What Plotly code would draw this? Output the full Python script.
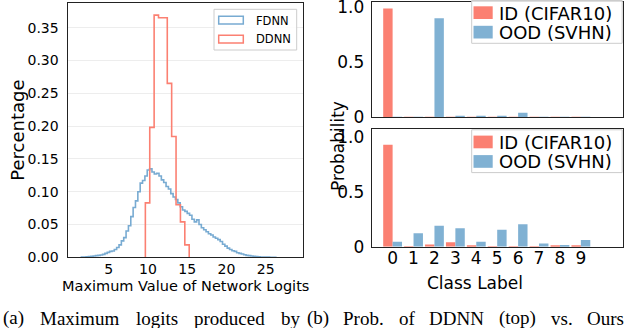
import plotly.graph_objects as go

# ---------------- data ----------------
# Left: histograms of max logits (step outlines)
fdnn_bin_start = 1.5
fdnn_bin_width = 0.3
fdnn_values = [
    0.0003, 0.0005, 0.0008, 0.001, 0.0015,
    0.002, 0.0025, 0.003, 0.0035, 0.0045,
    0.006, 0.0075, 0.009, 0.0095, 0.012,
    0.015, 0.019, 0.025, 0.030, 0.040,
    0.048, 0.062, 0.076, 0.086, 0.100,
    0.113, 0.117, 0.124, 0.133, 0.135,
    0.130, 0.127, 0.128, 0.124, 0.118,
    0.114, 0.108, 0.104, 0.097, 0.092,
    0.088, 0.083, 0.077, 0.072, 0.070,
    0.067, 0.064, 0.058, 0.054, 0.057,
    0.050, 0.045, 0.042, 0.039, 0.036,
    0.034, 0.031, 0.029, 0.027, 0.024,
    0.020, 0.017, 0.014, 0.012, 0.010,
    0.009, 0.007, 0.006, 0.005, 0.004,
    0.003, 0.0025, 0.002, 0.0015, 0.001,
    0.0008, 0.0005, 0.0004, 0.0003, 0.0002,
    0.0001, 0.0001, 0.0,
]
ddnn_bin_start = 9.66
ddnn_bin_width = 0.559
ddnn_values = [0.083, 0.198, 0.369, 0.365, 0.365, 0.265, 0.184, 0.080, 0.054, 0.019]

left_yticks = [0.00, 0.05, 0.10, 0.15, 0.20, 0.25, 0.30, 0.35]
left_xticks = [5, 10, 15, 20, 25]

# Right: class probabilities
classes = [0, 1, 2, 3, 4, 5, 6, 7, 8, 9]
top_id = [0.99, 0.002, 0.002, 0.001, 0.001, 0.001, 0.001, 0.001, 0.001, 0.001]
top_ood = [0.002, 0.003, 0.90, 0.006, 0.010, 0.010, 0.042, 0.002, 0.001, 0.001]
bot_id = [0.93, 0.001, 0.020, 0.040, 0.008, 0.001, 0.001, 0.001, 0.008, 0.010]
bot_ood = [0.046, 0.122, 0.192, 0.168, 0.046, 0.155, 0.205, 0.030, 0.015, 0.061]

fdnn_name = "FDNN"
ddnn_name = "DDNN"
id_name = "ID (CIFAR10)"
ood_name = "OOD (SVHN)"

RED = "#fb8072"
BLUE = "#80b1d3"
BLUE_LINE = "#78abd2"
FONT = "DejaVu Sans"
W, H = 626, 328


def step_xy(start, width, values):
    edges = [start + i * width for i in range(len(values) + 1)]
    xs = [edges[0]] + edges
    ys = [0] + list(values) + [0]
    return xs, ys


def px(x):
    return x / W


def py(y):
    return 1 - y / H


fig = go.Figure()

fx, fy = step_xy(fdnn_bin_start, fdnn_bin_width, fdnn_values)
dx, dy = step_xy(ddnn_bin_start, ddnn_bin_width, ddnn_values)
fig.add_trace(go.Scatter(x=fx, y=fy, mode="lines", line=dict(color=BLUE_LINE, width=1.6, shape="hv"),
                         name=fdnn_name, xaxis="x", yaxis="y", showlegend=False))
fig.add_trace(go.Scatter(x=dx, y=dy, mode="lines", line=dict(color=RED, width=1.6, shape="hv"),
                         name=ddnn_name, xaxis="x", yaxis="y", showlegend=False))

for ids, oods, xa, ya in [(top_id, top_ood, "x2", "y2"), (bot_id, bot_ood, "x3", "y3")]:
    fig.add_trace(go.Bar(x=classes, y=ids, marker=dict(color=RED, line=dict(width=0)),
                         name=id_name, xaxis=xa, yaxis=ya, showlegend=False, offsetgroup="a"))
    fig.add_trace(go.Bar(x=classes, y=oods, marker=dict(color=BLUE, line=dict(width=0)),
                         name=ood_name, xaxis=xa, yaxis=ya, showlegend=False, offsetgroup="b"))

frame = dict(showline=True, linecolor="#222", linewidth=1, mirror=True, zeroline=False,
             automargin=False, ticklabeloverflow="allow")

fig.update_layout(
    width=W, height=H,
    margin=dict(l=0, r=0, t=0, b=0, autoexpand=False),
    paper_bgcolor="white", plot_bgcolor="white",
    barmode="group", bargap=0.1, bargroupgap=0,
    font=dict(family=FONT, color="black"),
    xaxis=dict(domain=[px(67.5), px(302.5)], range=[-0.27, 29.7], tickvals=left_xticks,
               ticks="", tickfont=dict(size=14), ticklabelstandoff=-1,
               showgrid=False, anchor="y", **frame),
    yaxis=dict(domain=[py(257.3), py(2.7)], range=[0, 0.388], tickvals=left_yticks, tickformat=".2f",
               ticks="outside", ticklen=5, tickcolor="rgba(0,0,0,0)", tickfont=dict(size=14),
               showgrid=True, gridcolor="#ededed", gridwidth=1, anchor="x", **frame),
    xaxis2=dict(domain=[px(371.7), px(622.7)], range=[-1, 11], tickvals=classes, showticklabels=False,
                showgrid=False, anchor="y2", **frame),
    yaxis2=dict(domain=[py(117.3), py(1.8)], range=[0, 1.05], tickvals=[0, 0.5, 1.0],
                ticktext=["0", "0.5", "1.0"], ticks="outside", ticklen=3, tickcolor="rgba(0,0,0,0)",
                tickfont=dict(size=17), showgrid=False, anchor="x2", **frame),
    xaxis3=dict(domain=[px(371.7), px(622.7)], range=[-1, 11], tickvals=classes,
                ticks="", tickfont=dict(size=17), ticklabelstandoff=-4,
                showgrid=False, anchor="y3", **frame),
    yaxis3=dict(domain=[py(246.7), py(129.3)], range=[0, 1.07], tickvals=[0, 0.5, 1.0],
                ticktext=["0", "0.5", "1.0"], ticks="outside", ticklen=3, tickcolor="rgba(0,0,0,0)",
                tickfont=dict(size=17), showgrid=False, anchor="x3", **frame),
)

shapes = []
annotations = []


def ann(text, x, y, size, xanchor="center", yanchor="middle", angle=0, family=FONT):
    annotations.append(dict(text=text, x=px(x), y=py(y), xref="paper", yref="paper", showarrow=False,
                            xanchor=xanchor, yanchor=yanchor, textangle=angle,
                            font=dict(size=size, family=family, color="black")))


def rect(x0, y0, x1, y1, line_color, fill, lw=1):
    shapes.append(dict(type="rect", xref="paper", yref="paper", x0=px(x0), x1=px(x1), y0=py(y1), y1=py(y0),
                       line=dict(color=line_color, width=lw), fillcolor=fill, layer="above"))


# axis titles
ann("Percentage", 16.7, 130, 18, angle=-90)
ann("Maximum Value of Network Logits", 185, 286, 14.5)
ann("Class Label", 474.5, 283, 17)
ann("Probability", 337.5, 146.5, 17, angle=-90)

# left legend
rect(214, 9.3, 296.7, 50, "#cccccc", "rgba(255,255,255,0.85)")
rect(218.7, 16.3, 243.3, 24, BLUE_LINE, "rgba(0,0,0,0)", 1.5)
rect(218.7, 35.3, 243.3, 43, RED, "rgba(0,0,0,0)", 1.5)
ann(fdnn_name, 254, 20.5, 11.5, xanchor="left")
ann(ddnn_name, 254, 39.5, 11.5, xanchor="left")

# right legends
for top in (0.0, 129.3):
    rect(471.7, top + 0.5, 622.2, top + 43.3, "#cccccc", "rgba(255,255,255,0.85)")
    rect(473.5, top + 6.3, 492.7, top + 19.0, RED, RED, 0)
    rect(473.5, top + 25.8, 492.7, top + 38.5, BLUE, BLUE, 0)
    ann(id_name, 496.5, top + 13, 18, xanchor="left")
    ann(ood_name, 496.5, top + 32.3, 18, xanchor="left")

# caption (justified words)
cap_words = [("(a)", 1), ("Maximum", 38), ("logits", 133.5), ("produced", 192), ("by", 279),
             ("(b)", 305), ("Prob.", 341), ("of", 396.5), ("DDNN", 427), ("(top)", 497),
             ("vs.", 549), ("Ours", 585)]
for w, x in cap_words:
    ann(w, x, 318, 19, xanchor="left", family="Liberation Serif")

fig.update_layout(shapes=shapes, annotations=annotations)
fig.write_html("out.html", config={"displayModeBar": False},
               post_script="document.body.style.margin='0';document.body.style.overflow='hidden';")
